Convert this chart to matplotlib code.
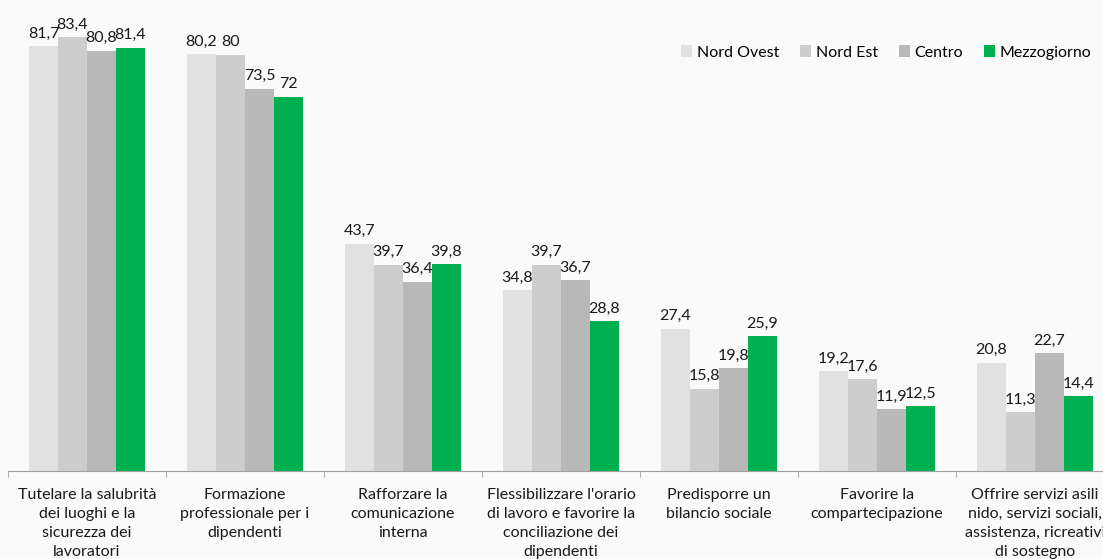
import numpy as np
import matplotlib.pyplot as plt

plt.rcParams['font.family'] = ['Lato', 'DejaVu Sans']

# survey results by macro-area (%)
categories = [
    "Tutelare la salubrità\ndei luoghi e la\nsicurezza dei\nlavoratori",
    "Formazione\nprofessionale per i\ndipendenti",
    "Rafforzare la\ncomunicazione\ninterna",
    "Flessibilizzare l'orario\ndi lavoro e favorire la\nconciliazione dei\ndipendenti",
    "Predisporre un\nbilancio sociale",
    "Favorire la\ncompartecipazione",
    "Offrire servizi asili\nnido, servizi sociali,\nassistenza, ricreativi\ndi sostegno",
]
nord_ovest = [81.7, 80.2, 43.7, 34.8, 27.4, 19.2, 20.8]
nord_est = [83.4, 80.0, 39.7, 39.7, 15.8, 17.6, 11.3]
centro = [80.8, 73.5, 36.4, 36.7, 19.8, 11.9, 22.7]
mezzogiorno = [81.4, 72.0, 39.8, 28.8, 25.9, 12.5, 14.4]

series = [("Nord Ovest", nord_ovest, "#e1e1e1"),
          ("Nord Est", nord_est, "#cdcdcd"),
          ("Centro", centro, "#b8b8b8"),
          ("Mezzogiorno", mezzogiorno, "#00b050")]

bg = "#fafafa"
fig = plt.figure(figsize=(11.03, 5.59), dpi=100, facecolor=bg)
ax = fig.add_axes([8 / 1103, 88 / 559, 1106 / 1103, 468 / 559], facecolor=bg)

x = np.arange(len(categories))
w = 0.734 / 4

def fmt(v):
    s = f"{v:.1f}".replace(".", ",")
    return s[:-2] if s.endswith(",0") else s

for i, (name, vals, col) in enumerate(series):
    pos = x + (i - 1.5) * w
    ax.bar(pos, vals, width=w, color=col, label=name, zorder=2)
    for px, v in zip(pos, vals):
        ax.annotate(fmt(v), (px, v), xytext=(0, 4), textcoords="offset points",
                    ha="center", va="bottom", fontsize=11.5, color="#1a1a1a")

ax.set_xlim(-0.5, len(categories) - 0.5)
ax.set_ylim(0, 90)
ax.set_yticks([])
for s in ["top", "right", "left"]:
    ax.spines[s].set_visible(False)
ax.spines["bottom"].set_color("#a0a0a0")

ax.set_xticks(x)
ax.set_xticklabels(categories, fontsize=11.5, color="#1a1a1a", linespacing=1.45, va="top")
ax.tick_params(axis="x", which="major", length=0, pad=12)
ax.set_xticks(np.arange(len(categories) + 1) - 0.5, minor=True)
ax.tick_params(axis="x", which="minor", length=4, color="#a0a0a0", direction="out")

leg = ax.legend(loc="upper right", bbox_to_anchor=(1098 / 1106, 0.94), ncol=4,
                frameon=False, fontsize=11.5, handlelength=0.7, handleheight=0.7,
                handletextpad=0.3, columnspacing=1.3)

fig.savefig("out.png", dpi=100, facecolor=bg)
